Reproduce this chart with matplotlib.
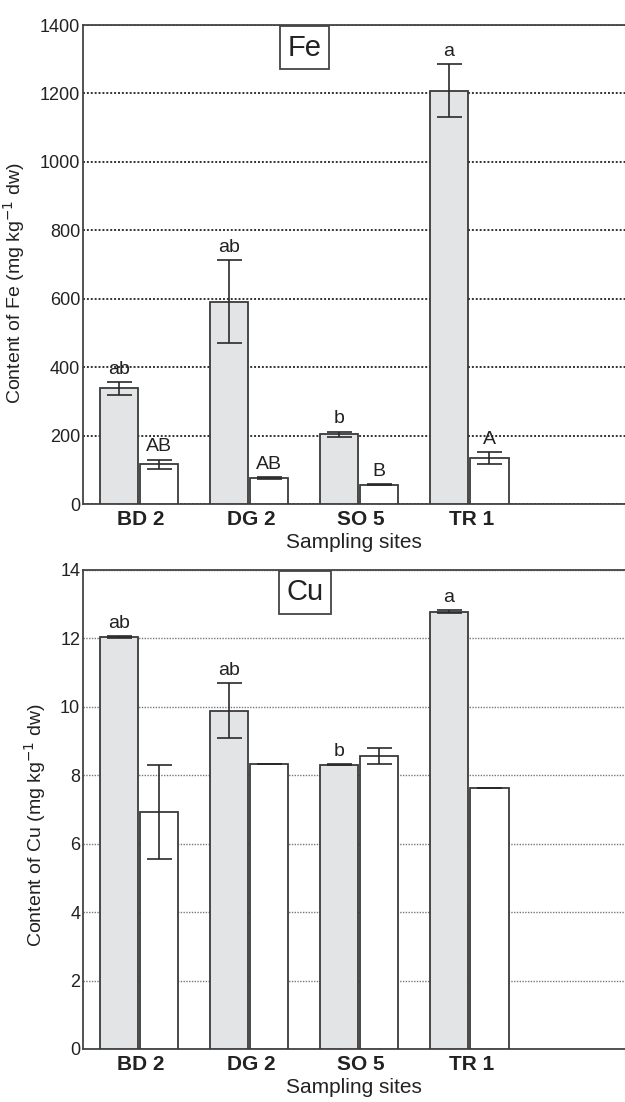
import numpy as np
import matplotlib
matplotlib.use("Agg")
import matplotlib.pyplot as plt

plt.rcParams['font.family'] = ['Liberation Sans', 'DejaVu Sans']

sites = ["BD 2", "DG 2", "SO 5", "TR 1"]

fe_grey = [338, 591, 204, 1208]
fe_grey_err = [19, 121, 8, 78]
fe_white = [116, 77, 57, 135]
fe_white_err = [14, 3, 1, 18]
fe_grey_letters = ["ab", "ab", "b", "a"]
fe_white_letters = ["AB", "AB", "B", "A"]

cu_grey = [12.04, 9.89, 8.31, 12.78]
cu_grey_err = [0.02, 0.80, 0.02, 0.05]
cu_white = [6.92, 8.32, 8.56, 7.63]
cu_white_err = [1.37, 0.0, 0.23, 0.0]
cu_grey_letters = ["ab", "ab", "b", "a"]
cu_white_letters = ["", "", "", ""]

fig = plt.figure(figsize=(6.25, 11.02), dpi=100)
ax_fe = fig.add_axes([0.1328, 0.5426, 0.8672, 0.4347])
ax_cu = fig.add_axes([0.1328, 0.0481, 0.8672, 0.4347])

x = np.arange(len(sites))
off = 0.184
width = 0.35
edge = "#3a3a3a"


def draw_panel(ax, grey, grey_err, white, white_err, gl, wl, ymax, step, elem, grid_color, grid_lw):
    ax.bar(x - off, grey, width, color="#e3e4e6", edgecolor=edge, linewidth=1.3, zorder=3)
    ax.bar(x + off, white, width, color="white", edgecolor=edge, linewidth=1.3, zorder=3)
    ax.errorbar(x - off, grey, yerr=grey_err, fmt="none", ecolor="#2a2a2a",
                elinewidth=1.2, capsize=9, capthick=1.2, zorder=4)
    ax.errorbar(x + off, white, yerr=white_err, fmt="none", ecolor="#2a2a2a",
                elinewidth=1.2, capsize=9, capthick=1.2, zorder=4)
    for i in range(len(sites)):
        if gl[i]:
            ax.annotate(gl[i], (x[i] - off, grey[i] + grey_err[i]), xytext=(0, 3),
                        textcoords="offset points", ha="center", va="bottom",
                        fontsize=14, color="#222222", zorder=5)
        if wl[i]:
            ax.annotate(wl[i], (x[i] + off, white[i] + white_err[i]), xytext=(0, 3),
                        textcoords="offset points", ha="center", va="bottom",
                        fontsize=14, color="#222222", zorder=5)

    ax.set_xlim(-0.509, 4.418)
    ax.set_ylim(0, ymax)
    ax.set_yticks(np.arange(0, ymax + step / 2, step))
    ax.yaxis.grid(True, linestyle=(0, (1, 1)), color=grid_color, linewidth=grid_lw, zorder=0)
    ax.set_axisbelow(True)

    ax.set_xticks(x + 0.02)
    ax.set_xticklabels(sites, fontsize=15, fontweight="bold", color="#222222")
    ax.set_xticks(np.concatenate([x - off, x + off]), minor=True)
    ax.tick_params(axis="x", which="major", length=0, pad=4)
    ax.tick_params(axis="x", which="minor", direction="in", length=4, width=1, color=edge)
    ax.tick_params(axis="y", length=0, pad=2, labelsize=13, labelcolor="#222222")

    for s in ["left", "bottom", "top"]:
        ax.spines[s].set_color("#444444")
        ax.spines[s].set_linewidth(1.3)
    ax.spines["right"].set_visible(False)

    ax.set_xlabel("Sampling sites", fontsize=15, color="#222222", labelpad=3)
    ax.set_ylabel(f"Content of {elem} (mg kg$^{{-1}}$ dw)", fontsize=14, color="#222222")

    ax.text(0.409, 0.953, elem, transform=ax.transAxes, fontsize=21, ha="center", va="center",
            color="#222222", zorder=6,
            bbox=dict(boxstyle="square,pad=0.25", facecolor="white", edgecolor="#444444", linewidth=1.3))


draw_panel(ax_fe, fe_grey, fe_grey_err, fe_white, fe_white_err, fe_grey_letters, fe_white_letters,
           1400, 200, "Fe", "#333333", 1.4)
draw_panel(ax_cu, cu_grey, cu_grey_err, cu_white, cu_white_err, cu_grey_letters, cu_white_letters,
           14, 2, "Cu", "#777777", 1.0)

ax_fe.yaxis.set_label_coords(-0.103, 0.461)
ax_cu.yaxis.set_label_coords(-0.065, 0.468)

fig.savefig("out.png", dpi=100)
